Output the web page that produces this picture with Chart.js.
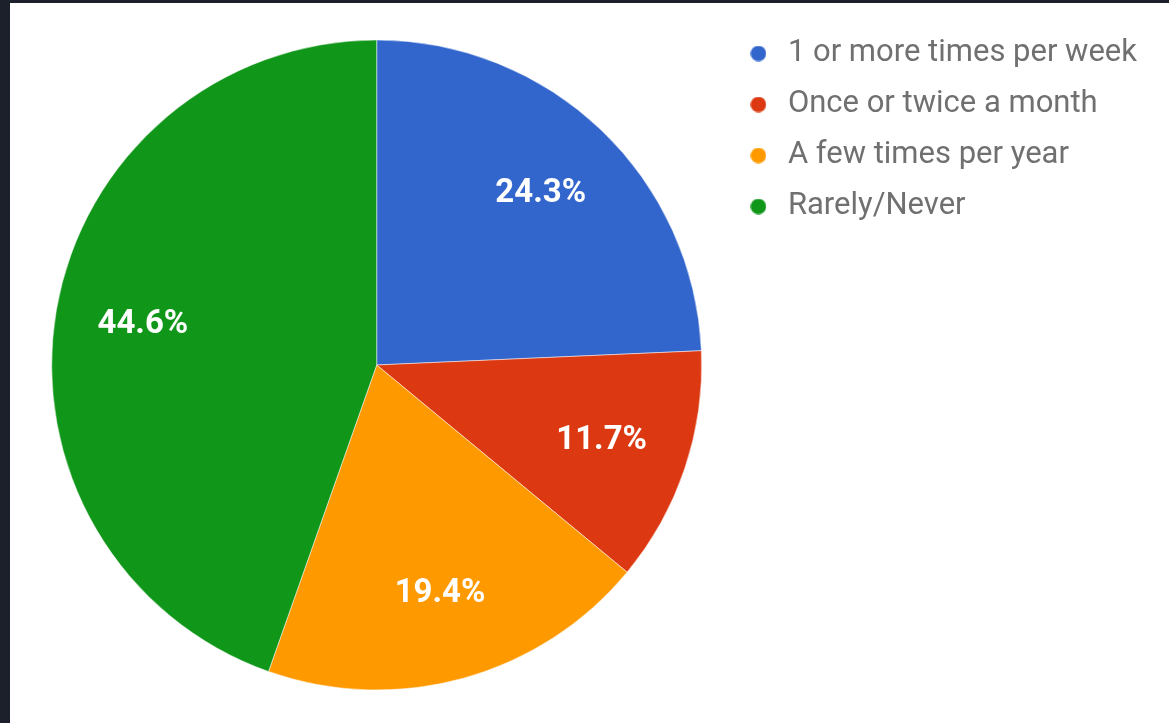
<!DOCTYPE html>
<html>
<head>
<meta charset="utf-8">
<script src="https://cdn.jsdelivr.net/npm/chart.js@4"></script>
<style>
  body { margin: 0; background: #1b202b; }
  #wrap { position: absolute; left: 10px; top: 3px; width: 1159px; height: 720px; background: #fff; }
</style>
</head>
<body>
<div id="wrap"><canvas id="pieChart"></canvas></div>
<script>
const categories = ['1 or more times per week', 'Once or twice a month', 'A few times per year', 'Rarely/Never'];
const shares = [24.3, 11.7, 19.4, 44.6];
const colors = ['#3366cc', '#dc3912', '#ff9900', '#109618'];

// little round markers for the legend
function dot(color) {
    const c = document.createElement('canvas');
    c.width = 16; c.height = 16;
    const g = c.getContext('2d');
    g.fillStyle = color;
    g.beginPath();
    g.arc(8, 8, 7.8, 0, Math.PI * 2);
    g.fill();
    return c;
}
const dots = colors.map(dot);

const sliceLabels = {
    id: 'sliceLabels',
    afterDatasetsDraw(chart) {
        const ctx = chart.ctx;
        const meta = chart.getDatasetMeta(0);
        ctx.save();
        ctx.font = 'bold 33px Roboto';
        ctx.fillStyle = '#fff';
        ctx.textAlign = 'center';
        ctx.textBaseline = 'middle';
        meta.data.forEach((arc, i) => {
            const p = arc.getProps(['x', 'y', 'startAngle', 'endAngle', 'outerRadius']);
            const mid = (p.startAngle + p.endAngle) / 2;
            const r = p.outerRadius * 0.73;
            ctx.fillText(shares[i].toFixed(1) + '%', p.x + Math.cos(mid) * r, p.y + Math.sin(mid) * r);
        });
        ctx.restore();
    }
};

new Chart(document.getElementById('pieChart'), {
    type: 'pie',
    data: {
        labels: categories,
        datasets: [{
            data: shares,
            backgroundColor: colors,
            borderColor: '#fff',
            borderWidth: 0.5,
            radius: 325
        }]
    },
    options: {
        responsive: true,
        maintainAspectRatio: false,
        animation: false,
        layout: { padding: { left: 19, top: 15, bottom: 11, right: 22 } },
        plugins: {
            tooltip: { enabled: false },
            legend: {
                position: 'right',
                align: 'start',
                labels: {
                    usePointStyle: true,
                    pointStyleWidth: 28,
                    padding: 20,
                    color: '#707070',
                    font: { family: 'Roboto', size: 31 },
                    generateLabels: (chart) => categories.map((label, i) => ({
                        text: label,
                        fillStyle: colors[i],
                        strokeStyle: colors[i],
                        lineWidth: 0,
                        pointStyle: dots[i],
                        fontColor: '#707070',
                        hidden: !chart.getDataVisibility(i),
                        index: i
                    }))
                }
            }
        }
    },
    plugins: [sliceLabels]
});
</script>
</body>
</html>
